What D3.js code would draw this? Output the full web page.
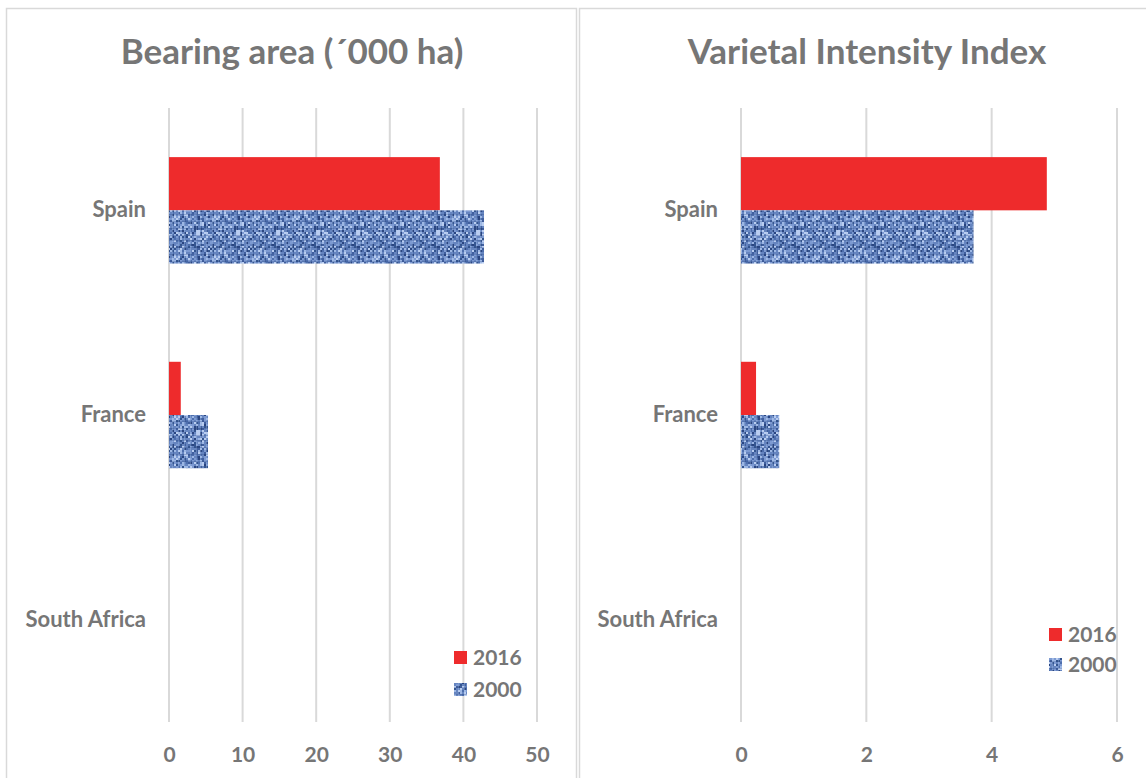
<!DOCTYPE html>
<html><head><meta charset="utf-8">
<script src="https://cdn.jsdelivr.net/npm/d3@7"></script>
<style>body{margin:0;background:#fff}svg{display:block}</style>
</head><body>
<svg id="c" width="1146" height="778"></svg>
<script>
const categories = ["Spain", "France", "South Africa"];
const seriesNames = ["2016", "2000"];
const area2016 = [36.8, 1.6, 0];
const area2000 = [42.8, 5.3, 0];
const vii2016 = [4.88, 0.24, 0];
const vii2000 = [3.71, 0.61, 0];
const areaTicks = [0, 10, 20, 30, 40, 50];
const viiTicks = [0, 2, 4, 6];

const svg = d3.select("#c");
const txt = "#767676";
const font = "Lato, 'Open Sans', sans-serif";

// denim-like texture pattern (deterministic hash, decoration only)
const defs = svg.append("defs");
const pat = defs.append("pattern").attr("id","denim").attr("patternUnits","userSpaceOnUse")
  .attr("width",40).attr("height",40);
pat.append("rect").attr("width",40).attr("height",40).attr("fill","#6685c0");
const shades = ["#34558f","#9db7e4","#4d6ead","#b9cdf0","#405f9e","#7d9ad2","#2a4580"];
function hash(i,j){ const s = Math.sin(i*127.1 + j*311.7)*43758.5453; return s - Math.floor(s); }
for (let i=0;i<20;i++) for (let j=0;j<20;j++){
  const k = Math.floor(hash(i,j)*10);
  if (k < shades.length) pat.append("rect").attr("x",i*2).attr("y",j*2).attr("width",2).attr("height",2).attr("fill",shades[k]);
}
// weave lines
for (let i=0;i<40;i+=6) pat.append("rect").attr("x",i).attr("y",0).attr("width",1).attr("height",40).attr("fill","#a9c1ea").attr("opacity",0.35);
for (let j=0;j<40;j+=7) pat.append("rect").attr("x",0).attr("y",j).attr("width",40).attr("height",1).attr("fill","#2f4d88").attr("opacity",0.3);
const colors = {"2016":"#ee2b2c","2000":"url(#denim)"};

// panel borders
svg.append("rect").attr("x",6.5).attr("y",8.5).attr("width",570).attr("height",800)
  .attr("fill","none").attr("stroke","#d9d9d9").attr("stroke-width",1.5);
svg.append("rect").attr("x",579.5).attr("y",8.5).attr("width",600).attr("height",800)
  .attr("fill","none").attr("stroke","#d9d9d9").attr("stroke-width",1.5);

function panel(opt){
  const g = svg.append("g");
  const x = d3.scaleLinear().domain(opt.domain).range([opt.x0, opt.x1]);
  const y = d3.scaleBand().domain(categories).range([108, 722]).paddingInner(0.48).paddingOuter(0.24);
  const ys = d3.scaleBand().domain(seriesNames).range([0, y.bandwidth()]);
  g.append("text").attr("x",opt.tx).attr("y",64).attr("text-anchor","middle")
    .attr("font-family",font).attr("font-weight","bold").attr("font-size",35).attr("fill",txt).text(opt.title);
  g.selectAll("line.grid").data(opt.ticks).join("line").attr("class","grid")
    .attr("x1",d=>x(d)).attr("x2",d=>x(d)).attr("y1",108).attr("y2",722)
    .attr("stroke","#d9d9d9").attr("stroke-width",2);
  const ax = g.append("g").attr("transform","translate(0,755)")
    .call(d3.axisBottom(x).tickValues(opt.ticks).tickSize(0).tickPadding(0).tickFormat(d3.format("d")));
  ax.select(".domain").remove();
  ax.selectAll("text").attr("font-family",font).attr("font-weight","bold").attr("font-size",21)
    .attr("fill",txt).attr("dy","0.35em");
  const ay = g.append("g").attr("transform",`translate(${opt.labelX},0)`)
    .call(d3.axisLeft(y).tickSize(0).tickPadding(0));
  ay.select(".domain").remove();
  ay.selectAll("text").attr("font-family",font).attr("font-weight","bold").attr("font-size",22).attr("fill",txt);
  const rows = [];
  categories.forEach((c,i)=>{ rows.push({c, s:"2016", v:opt.s2016[i]}); rows.push({c, s:"2000", v:opt.s2000[i]}); });
  g.selectAll("rect.bar").data(rows.filter(d=>d.v>0)).join("rect").attr("class","bar")
    .attr("x",x(0)).attr("y",d=>y(d.c)+ys(d.s)).attr("height",ys.bandwidth())
    .attr("width",d=>x(d.v)-x(0)).attr("fill",d=>colors[d.s]);
  seriesNames.forEach((s,i)=>{
    const ly = opt.ly + i*opt.lstep;
    g.append("rect").attr("x",opt.lx).attr("y",ly-7).attr("width",13).attr("height",13).attr("fill",colors[s]);
    g.append("text").attr("x",opt.lx+19).attr("y",ly).attr("dy","0.35em")
      .attr("font-family",font).attr("font-weight","bold").attr("font-size",21).attr("fill",txt).text(s);
  });
}

panel({title:"Bearing area (\u00B4000 ha)", tx:292, domain:[0,50], x0:169, x1:537, ticks:areaTicks,
  s2016:area2016, s2000:area2000, labelX:146, lx:454, ly:658, lstep:32});
panel({title:"Varietal Intensity Index", tx:867, domain:[0,6], x0:741, x1:1117, ticks:viiTicks,
  s2016:vii2016, s2000:vii2000, labelX:718, lx:1049, ly:635, lstep:30});
</script>
</body></html>
